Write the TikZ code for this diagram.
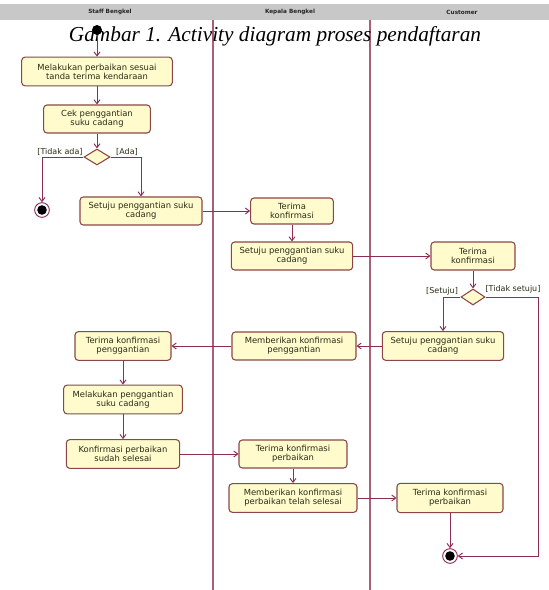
\documentclass[tikz,border=0pt]{standalone}
\usepackage{fontspec}
\setmainfont{DejaVu Sans}
\newfontfamily\capfont{Liberation Serif}
\usetikzlibrary{arrows.meta,shapes.geometric}
\definecolor{boxfill}{RGB}{255,251,205}
\definecolor{boxline}{RGB}{140,70,70}
\definecolor{flow}{RGB}{140,45,85}
\definecolor{lanecol}{RGB}{170,95,120}
\definecolor{txt}{RGB}{40,45,20}
\definecolor{hdr}{RGB}{200,200,200}
\begin{document}
\begin{tikzpicture}[x=0.75pt,y=-0.75pt,
  act/.style={draw=boxline, fill=boxfill, rounded corners=2.5pt, line width=0.8pt,
    align=center, font=\fontsize{6.3}{6.9}\selectfont, text=txt, inner sep=0pt},
  dec/.style={diamond, draw=boxline, fill=boxfill, line width=0.8pt, inner sep=0pt,
    minimum width=19.5pt, minimum height=12pt},
  flowline/.style={draw=flow, line width=0.7pt, -{Straight Barb[length=3pt,width=4.5pt]}},
  guard/.style={font=\fontsize{6}{6.9}\selectfont, text=txt, inner sep=0pt},
  lanehead/.style={font=\bfseries\fontsize{4.3}{5}\selectfont, text=black!85, inner sep=0pt},
  laneline/.style={draw=lanecol, line width=0.85pt},
  initnode/.style={circle, fill=black, minimum size=7.5pt, inner sep=0pt},
  finnode/.style={circle, draw=flow, line width=0.7pt, fill=white, minimum size=11pt, inner sep=0pt,
    path picture={\fill[black] (path picture bounding box.center) circle (3.6pt);}}
]
\useasboundingbox (0,0) rectangle (549,590);
\fill[white] (0,0) rectangle (549,590);
% header
\fill[hdr] (0,4) rectangle (549,20);
\node[lanehead] (h1) at (110,12) {Staff Bengkel};
\node[lanehead] (h2) at (290,12) {Kepala Bengkel};
\node[lanehead] (h3) at (462,12) {Customer};
% lanes
\coordinate (l1t) at (213,20); \coordinate (l1b) at (213,590);
\coordinate (l2t) at (370,20); \coordinate (l2b) at (370,590);
\draw[laneline] (l1t) -- (l1b);
\draw[laneline] (l2t) -- (l2b);
% caption
\node[font=\capfont\itshape\fontsize{16}{18}\selectfont, inner sep=0pt] (cap) at (275,36)
  {Gambar 1. Activity diagram proses pendaftaran};
% nodes
\node[initnode] (init) at (97,30) {};
\node[act, minimum width=113pt, minimum height=21.5pt] (b1) at (97,71.5)
  {Melakukan perbaikan sesuai\\tanda terima kendaraan};
\node[act, minimum width=80pt, minimum height=21pt] (b2) at (97,119)
  {Cek penggantian\\suku cadang};
\node[dec] (d1) at (97,157) {};
\node[finnode] (f1) at (42,210) {};
\node[act, minimum width=91.5pt, minimum height=21pt] (b3) at (141,211)
  {Setuju penggantian suku\\cadang};
\node[act, minimum width=62pt, minimum height=19.5pt] (mt1) at (292,211)
  {Terima\\konfirmasi};
\node[act, minimum width=91pt, minimum height=21pt] (ms1) at (292,256)
  {Setuju penggantian suku\\cadang};
\node[act, minimum width=63pt, minimum height=21pt] (rt1) at (473,256)
  {Terima\\konfirmasi};
\node[dec, minimum width=18pt] (d2) at (473,297) {};
\node[act, minimum width=91pt, minimum height=21.5pt] (rs) at (443,346)
  {Setuju penggantian suku\\cadang};
\node[act, minimum width=93pt, minimum height=21pt] (mk1) at (294,346)
  {Memberikan konfirmasi\\penggantian};
\node[act, minimum width=72pt, minimum height=21.5pt] (tkp) at (123,346)
  {Terima konfirmasi\\penggantian};
\node[act, minimum width=89pt, minimum height=21.5pt] (mp) at (123,399.5)
  {Melakukan penggantian\\suku cadang};
\node[act, minimum width=85pt, minimum height=21.5pt] (kps) at (123,454)
  {Konfirmasi perbaikan\\sudah selesai};
\node[act, minimum width=81pt, minimum height=21pt] (tkb) at (293,454)
  {Terima konfirmasi\\perbaikan};
\node[act, minimum width=96pt, minimum height=21.5pt] (mkb) at (293,498)
  {Memberikan konfirmasi\\perbaikan telah selesai};
\node[act, minimum width=79.5pt, minimum height=22pt] (rtk) at (450,498)
  {Terima konfirmasi\\perbaikan};
\node[finnode] (f2) at (450,556) {};
% guards
\node[guard] (g1) at (60,152) {[Tidak ada]};
\node[guard] (g2) at (127,152) {[Ada]};
\node[guard] (g3) at (442,291) {[Setuju]};
\node[guard] (g4) at (513,289) {[Tidak setuju]};
% connectors
\draw[flowline] (init) -- (b1);
\draw[flowline] (b1) -- (b2);
\draw[flowline] (b2) -- (d1);
\draw[flowline] (d1.west) -| (f1);
\draw[flowline] (d1.east) -| (b3);
\draw[flowline] (b3) -- (mt1);
\draw[flowline] (mt1) -- (ms1);
\draw[flowline] (ms1) -- (rt1);
\draw[flowline] (rt1) -- (d2);
\draw[flowline] (d2.west) -| (rs);
\coordinate (cr1) at (538,297);
\coordinate (cr2) at (538,556);
\draw[flowline] (d2.east) -- (cr1) -- (cr2) -- (f2);
\draw[flowline] (rs) -- (mk1);
\draw[flowline] (mk1) -- (tkp);
\draw[flowline] (tkp) -- (mp);
\draw[flowline] (mp) -- (kps);
\draw[flowline] (kps) -- (tkb);
\draw[flowline] (tkb) -- (mkb);
\draw[flowline] (mkb) -- (rtk);
\draw[flowline] (rtk) -- (f2);
\end{tikzpicture}
\end{document}
